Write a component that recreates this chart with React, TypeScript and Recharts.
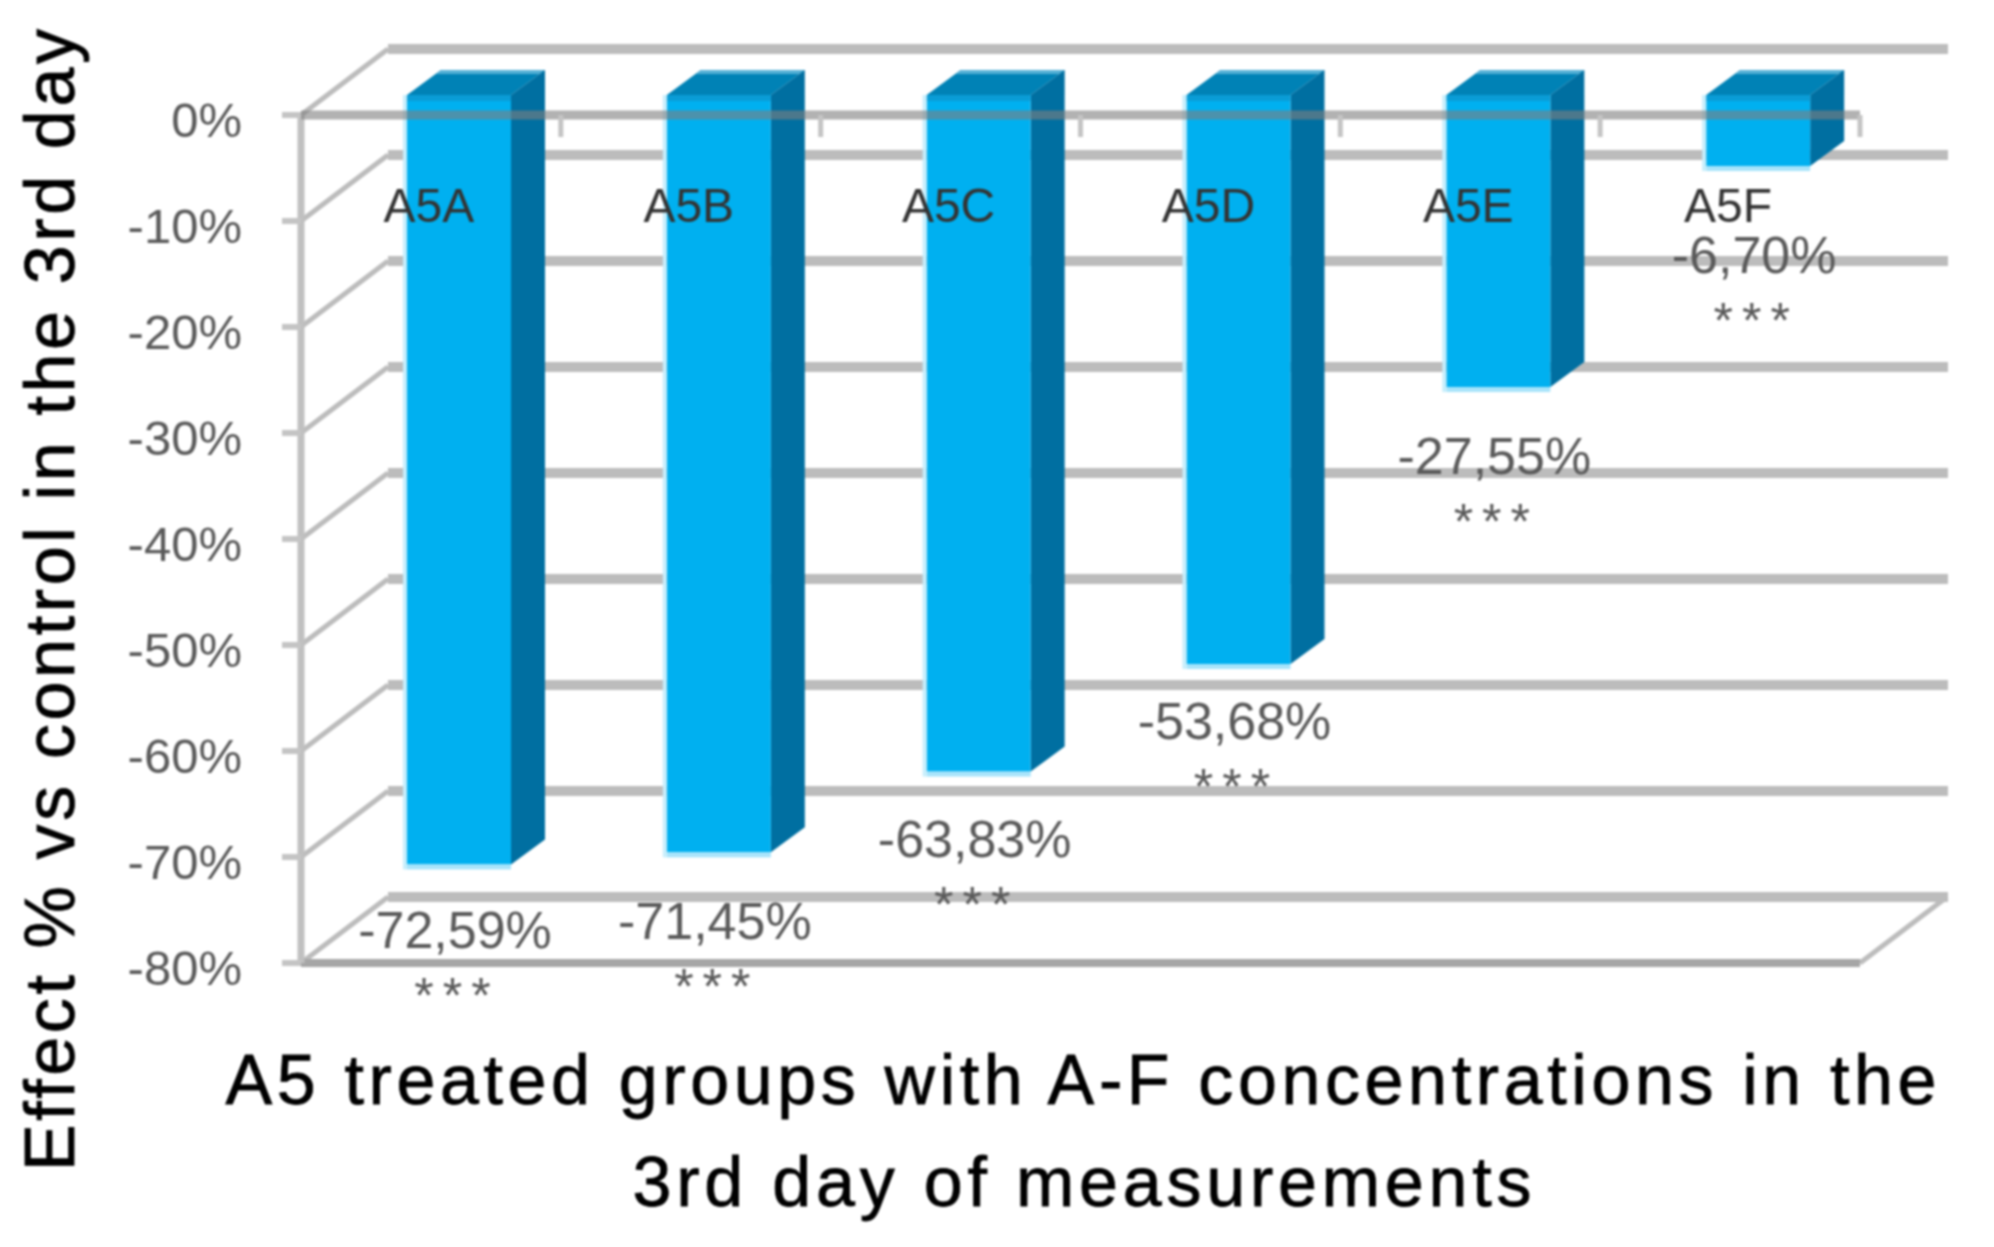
import React from "react"
import { BarChart, Bar, XAxis, YAxis, CartesianGrid, LabelList, ReferenceLine } from "recharts"

const groups = ["A5A", "A5B", "A5C", "A5D", "A5E", "A5F"]
const effects = [-72.59, -71.45, -63.83, -53.68, -27.55, -6.7]
const significance = ["***", "***", "***", "***", "***", "***"]
const yTicks = [0, -10, -20, -30, -40, -50, -60, -70, -80]

const chartData = groups.map((name, i) => ({ name, effect: effects[i], stars: significance[i] }))

// hand-placed label drops below each bar end, as in the source figure
const labelDrops = [69, 72, 70, 60, 72, 92]

const FONT = "'Liberation Sans', Arial, sans-serif"
const GRID = "#bcbcbc"
const LABEL = "#5a5a5a"
const WALL_DX = 87
const WALL_DY = 66
const BAR_DX = 28
const BAR_DY = -20
const DEPTH_X = 34
const DEPTH_Y = 25

function WallLine(props: any) {
  const { x1, x2, y1, index } = props
  const last = y1 > 900
  return (
    <g key={`wall-${index}`}>
      <line x1={x1} y1={y1} x2={x1 + WALL_DX} y2={y1 - WALL_DY} stroke={GRID} strokeWidth={5} />
      <line x1={x1 + WALL_DX} y1={y1 - WALL_DY} x2={x2 + WALL_DX + 1} y2={y1 - WALL_DY} stroke={GRID} strokeWidth={10} />
      {last && <line x1={x2} y1={y1} x2={x2 + WALL_DX} y2={y1 - WALL_DY} stroke={GRID} strokeWidth={5} />}
    </g>
  )
}

function Bar3D(props: any) {
  const { x, y, width, height } = props
  const top = Math.min(y, y + height) + BAR_DY
  const h = Math.abs(height)
  const l = x + BAR_DX
  const r = l + width
  const b = top + h
  return (
    <g>
      <polygon points={`${l},${top} ${l + DEPTH_X},${top - DEPTH_Y} ${r + DEPTH_X},${top - DEPTH_Y} ${r},${top}`} fill="#0082b6" />
      <polygon points={`${l + DEPTH_X - 5},${top - DEPTH_Y + 4} ${l + DEPTH_X},${top - DEPTH_Y} ${r + DEPTH_X},${top - DEPTH_Y} ${r + DEPTH_X - 5},${top - DEPTH_Y + 4}`} fill="#55b0d6" />
      <polygon points={`${r},${top} ${r + DEPTH_X},${top - DEPTH_Y} ${r + DEPTH_X},${b - DEPTH_Y} ${r},${b}`} fill="#006fa1" />
      <rect x={l} y={top} width={width} height={h} fill="#00b0f0" />
      <rect x={l} y={top} width={width} height={6} fill="#0a9cd6" />
      <rect x={l} y={b} width={width} height={5} fill="#a8e4fb" />
      <rect x={l - 4} y={top} width={4} height={h + 5} fill="#c6eefc" />
    </g>
  )
}

function GroupTick(props: any) {
  const { x, payload } = props
  const band = 259.8
  return (
    <g>
      <line x1={x + band / 2} y1={115} x2={x + band / 2} y2={137} stroke="#c4c4c4" strokeWidth={5} />
      <text x={x - 2} y={222} textAnchor="middle" fontSize={48} fontFamily={FONT} fill="#333333">
        {payload.value}
      </text>
    </g>
  )
}

function EffectLabel(props: any) {
  const { x, y, width, height, value, index } = props
  const bottom = Math.max(y, y + height) + BAR_DY
  const cx = x + BAR_DX + width / 2 - 4
  const cy = bottom + labelDrops[index]
  return (
    <g>
      <text x={cx} y={cy + 15} textAnchor="middle" fontSize={52} fontFamily={FONT} fill={LABEL}>
        {Number(value).toFixed(2).replace(".", ",")}%
      </text>
      <text x={cx + 2} y={cy + 80} textAnchor="middle" fontSize={50} letterSpacing={9} fontFamily={FONT} fill={LABEL}>
        {chartData[index].stars}
      </text>
    </g>
  )
}

export default function App() {
  return (
    <div style={{ position: "absolute", left: 0, top: 0, width: 1994, height: 1247, background: "#fff", filter: "blur(1px)" }}>
      <BarChart
        width={1994}
        height={1247}
        data={chartData}
        margin={{ top: 114, right: 134, bottom: 284, left: 0 }}
        barSize={104}
      >
        <CartesianGrid horizontal={(p: any) => <WallLine {...p} />} vertical={false} />
        <YAxis
          type="number"
          domain={[-80, 0]}
          ticks={yTicks}
          width={301}
          tickSize={19}
          tickMargin={40}
          interval={0}
          tickFormatter={(v: number) => `${v}%`}
          axisLine={{ stroke: "#c0c0c0", strokeWidth: 7 }}
          tickLine={{ stroke: "#c4c4c4", strokeWidth: 6 }}
          tick={{ fontSize: 49, fontFamily: FONT, fill: LABEL, dy: 5 }}
        />
        <ReferenceLine y={-80} stroke="#a6a6a6" strokeWidth={8} />
        <Bar dataKey="effect" isAnimationActive={false} shape={(p: any) => <Bar3D {...p} />}>
          <LabelList dataKey="effect" content={(p: any) => <EffectLabel {...p} />} />
        </Bar>
        <XAxis
          dataKey="name"
          orientation="top"
          height={1}
          interval={0}
          tickSize={0}
          axisLine={{ stroke: "#7f7f7f", strokeOpacity: 0.6, strokeWidth: 9 }}
          tickLine={false}
          tick={(p: any) => <GroupTick {...p} />}
        />
        <text
          transform="translate(74 600) rotate(-90)"
          textAnchor="middle"
          fontSize={70}
          fontFamily={FONT}
          textLength={1142}
          lengthAdjust="spacing"
          fill="#000"
          stroke="#000"
          strokeWidth={0.8}
        >
          Effect % vs control in the 3rd day
        </text>
        <text x={1081} y={1104} textAnchor="middle" fontSize={70} fontFamily={FONT} textLength={1711} lengthAdjust="spacing" fill="#000" stroke="#000" strokeWidth={0.8}>
          A5 treated groups with A-F concentrations in the
        </text>
        <text x={1082} y={1206} textAnchor="middle" fontSize={70} fontFamily={FONT} textLength={899} lengthAdjust="spacing" fill="#000" stroke="#000" strokeWidth={0.8}>
          3rd day of measurements
        </text>
      </BarChart>
    </div>
  )
}
